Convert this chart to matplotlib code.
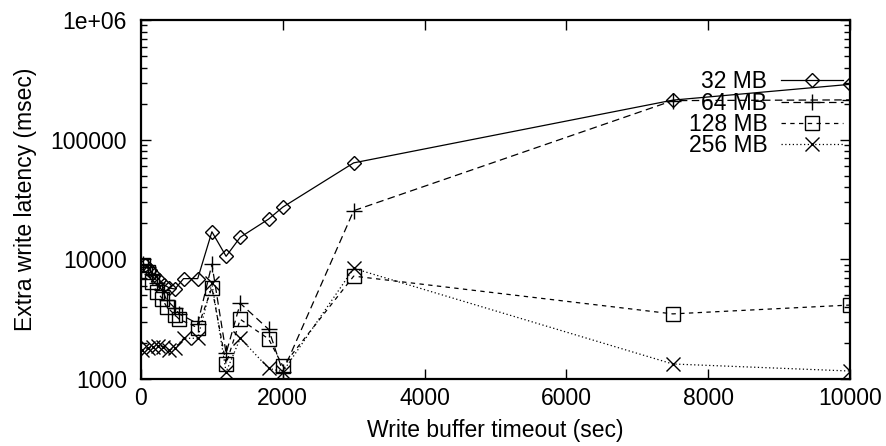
import matplotlib
matplotlib.use("Agg")
import matplotlib.pyplot as plt
from matplotlib.ticker import FixedLocator, FixedFormatter, LogLocator, NullFormatter

plt.rcParams['font.family'] = ['Liberation Sans', 'DejaVu Sans']

# ---- data ----
x_32 = [50, 120, 190, 260, 330, 400, 480, 600, 800, 1000, 1200, 1400, 1800, 2000, 3000, 7500, 10000]
y_32 = [8960, 8140, 7390, 6710, 6100, 5760, 5650, 6900, 6900, 17000, 10600, 15300, 21700, 27300, 64000, 214000, 290000]

x_64 = [30, 100, 150, 220, 300, 360, 480, 540, 800, 1000, 1200, 1400, 1800, 2000, 3000, 7500, 10000]
y_64 = [9200, 8600, 7600, 6300, 5500, 4600, 3900, 3500, 2900, 9100, 1640, 4290, 2600, 1150, 25500, 212000, 215000]

x_128 = [30, 100, 150, 220, 300, 360, 480, 540, 800, 1000, 1200, 1400, 1800, 2000, 3000, 7500, 10000]
y_128 = [8900, 7800, 6500, 5360, 4700, 4020, 3425, 3155, 2685, 5800, 1335, 3155, 2160, 1284, 7240, 3500, 4150]

x_256 = [20, 100, 170, 240, 310, 400, 480, 600, 800, 1000, 1200, 1400, 1800, 2000, 3000, 7500, 10000]
y_256 = [1750, 1800, 1860, 1880, 1860, 1750, 1820, 2190, 2190, 6300, 1145, 2190, 1228, 1150, 8400, 1335, 1166]

labels = ["32 MB", "64 MB", "128 MB", "256 MB"]
x_ticks = [0, 2000, 4000, 6000, 8000, 10000]
y_ticks = [1000, 10000, 100000, 1000000]
y_tick_labels = ["1000", "10000", "100000", "1e+06"]

# ---- figure ----
fig = plt.figure(figsize=(8.87, 4.46), dpi=100)
ax = fig.add_axes([141/887, 1 - 379/446, 709/887, 359/446])

lw = 0.9
ax.plot(x_32, y_32, color='black', lw=lw, linestyle='-', marker='D', ms=7,
        mfc='none', mec='black', mew=1.0, label=labels[0])
ax.plot(x_64, y_64, color='black', lw=lw, dashes=(6, 3.5), marker='+', ms=11,
        mec='black', mew=1.0, label=labels[1])
ax.plot(x_128, y_128, color='black', lw=lw, dashes=(3.5, 3.5), marker='s', ms=10,
        mfc='none', mec='black', mew=1.0, label=labels[2])
ax.plot(x_256, y_256, color='black', lw=lw, dashes=(1, 2), marker='x', ms=10,
        mec='black', mew=1.0, label=labels[3])

ax.set_yscale('log')
ax.set_xlim(0, 10000)
ax.set_ylim(1000, 1000000)

ax.xaxis.set_major_locator(FixedLocator(x_ticks))
ax.yaxis.set_major_locator(FixedLocator(y_ticks))
ax.yaxis.set_major_formatter(FixedFormatter(y_tick_labels))
ax.yaxis.set_minor_locator(LogLocator(base=10, subs=range(2, 10)))
ax.yaxis.set_minor_formatter(NullFormatter())

fs = 16.5
ax.tick_params(axis='both', which='major', direction='in', length=7, width=1.0,
               top=True, right=True, labelsize=fs)
ax.tick_params(axis='y', which='major', pad=10)
ax.tick_params(axis='x', which='major', pad=6)
ax.tick_params(axis='both', which='minor', direction='in', length=4, width=1.0,
               top=True, right=True)
for s in ax.spines.values():
    s.set_linewidth(1.6)

ax.set_xlabel("Write buffer timeout (sec)", fontsize=fs, labelpad=6)
ax.set_ylabel("Extra write latency (msec)", fontsize=fs, labelpad=10)

leg = ax.legend(loc='upper right', bbox_to_anchor=(0.99, 0.86), frameon=False,
                markerfirst=False, fontsize=fs, handlelength=2.7, handletextpad=0.6,
                labelspacing=-0.07, borderpad=0, borderaxespad=0)

fig.savefig("out.png", dpi=100)
